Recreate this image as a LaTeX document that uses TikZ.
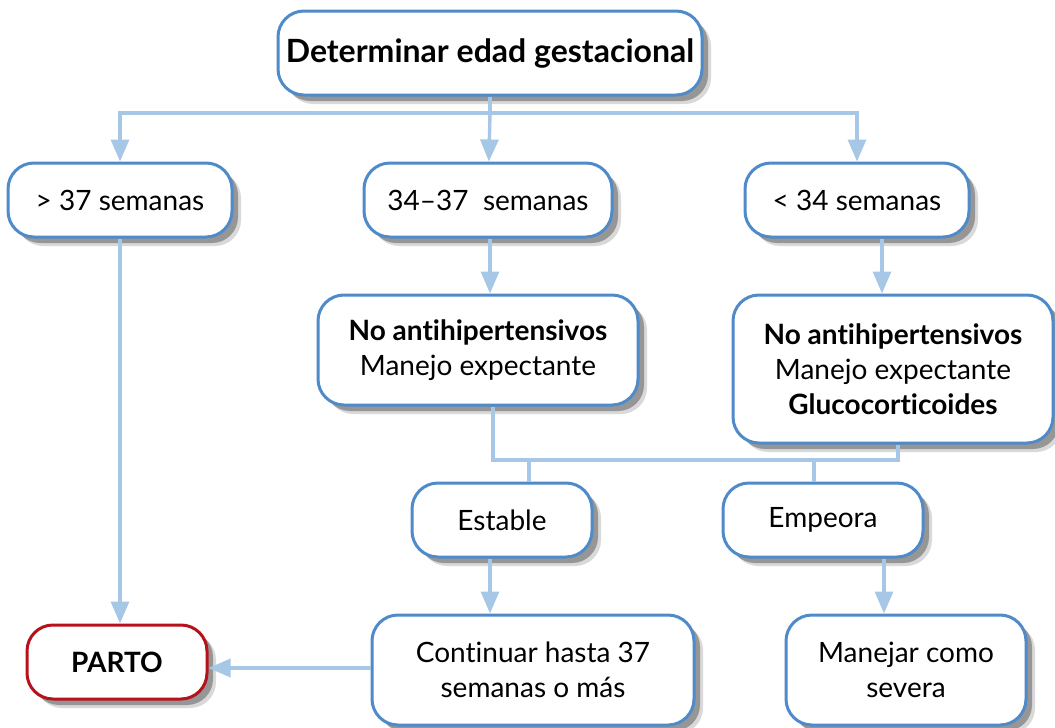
\documentclass[tikz,border=0pt]{standalone}
\usepackage{fontspec}
\setmainfont{Lato}[Ligatures=NoCommon]
\usepackage{tikz}
\usetikzlibrary{arrows.meta,shadows}
\definecolor{boxblue}{HTML}{4F8AC9}
\definecolor{linkblue}{HTML}{A7C7E7}
\definecolor{partored}{HTML}{B5121B}

\begin{document}
\begin{tikzpicture}[x=0.5pt,y=-0.5pt,
		box/.style={draw=boxblue, line width=1.5pt, fill=white, rounded corners=13pt, align=center,
			font=\fontsize{14}{17.5}\selectfont, minimum height=37pt,
			drop shadow={shadow xshift=4.5pt, shadow yshift=-4.5pt, fill=black!60, opacity=0.25},
			drop shadow={shadow xshift=3pt, shadow yshift=-3pt, fill=black!80, opacity=0.4}},
		link/.style={draw=linkblue, line width=1.7pt},
		arr/.style={link, -{Triangle[length=11pt,width=9pt]}}]
				\useasboundingbox (0,0) rectangle (1055,728);

				% boxes
				\node[box, minimum width=212pt, minimum height=42pt, font=\fontsize{16}{19}\selectfont] (edad) at (490,53) {\textbf{Determinar edad gestacional}};
				\node[box, minimum width=112pt] (mas37) at (120,200) {> 37 semanas};
				\node[box, minimum width=124pt] (entre) at (488,200) {34--37\ \ semanas};
				\node[box, minimum width=112pt] (menos34) at (857,200) {< 34 semanas};
				\node[box, minimum width=160pt, minimum height=55pt] (noanti1) at (478,350) {\textbf{No antihipertensivos}\\Manejo expectante};
				\node[box, minimum width=160pt, minimum height=74pt] (noanti2) at (893,369) {\textbf{No antihipertensivos}\\Manejo expectante\\\textbf{Glucocorticoides}};
				\node[box, minimum width=90pt] (estable) at (502,520) {Estable};
				\node[box, minimum width=100pt] (empeora) at (823,520) {Empeora};
				\node[box, draw=partored, minimum width=90pt] (parto) at (117,662) {\textbf{PARTO}};
				\node[box, minimum width=161pt, minimum height=55pt] (continuar) at (533,670) {Continuar hasta 37\\semanas o más};
				\node[box, minimum width=120pt, minimum height=55pt] (severa) at (906,670) {Manejar como\\severa};

				% top split
				\coordinate (bar) at (490,113);
				\draw[link] (edad) -- (bar);
				\draw[arr] (bar) -| (mas37);
				\draw[arr] (bar) -- (entre);
				\draw[arr] (bar) -| (menos34);

				\draw[arr] (mas37.south) -- (mas37.south |- parto.north);
				\draw[arr] ([xshift=1pt]entre.south) -- ([xshift=1pt]entre.south |- noanti1.north);
				\draw[arr] ([xshift=12.5pt]menos34.south) -- ([xshift=12.5pt]menos34.south |- noanti2.north);

				% join under the two boxes
				\coordinate (joinL) at (493,460);
				\coordinate (joinR) at (898,460);
				\draw[link] (noanti1.south -| joinL) -- (joinL) -- (joinR) -- (noanti2.south -| joinR);
				\draw[link] ([xshift=13.5pt]estable.north) -- ([xshift=13.5pt]estable.north |- joinL);
				\draw[link] ([xshift=-4.5pt]empeora.north) -- ([xshift=-4.5pt]empeora.north |- joinL);

				\draw[arr] ([xshift=-6pt]estable.south) -- ([xshift=-6pt]estable.south |- continuar.north);
				\draw[arr] ([xshift=30.5pt]empeora.south) -- ([xshift=30.5pt]empeora.south |- severa.north);
				\draw[arr] ([yshift=1pt]continuar.west) -- ([yshift=1pt]continuar.west -| parto.east);

			\end{tikzpicture}
\end{document}
